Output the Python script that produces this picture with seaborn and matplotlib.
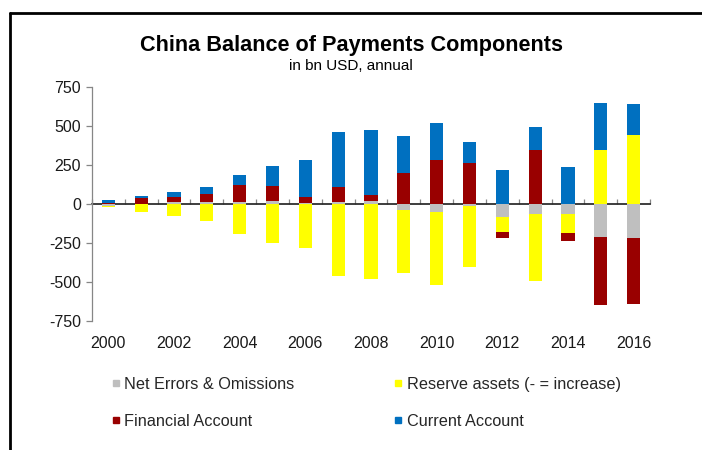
import numpy as np
import pandas as pd
import matplotlib
matplotlib.use("Agg")
import matplotlib.pyplot as plt
from matplotlib.lines import Line2D
import seaborn as sns

years = [str(y) for y in range(2000, 2017)]
net_errors = [-12, -5, 8, 8, 10, 20, 3, 13, 16, -41, -53, -14, -87, -63, -67, -214, -223]
reserves = [-10, -47, -76, -112, -193, -253, -285, -461, -484, -405, -471, -389, -97, -433, -118, 342, 440]
financial = [2, 35, 32, 53, 108, 91, 40, 91, 37, 194, 282, 260, -36, 343, -51, -436, -418]
current = [20, 17, 35, 43, 69, 129, 235, 353, 420, 243, 238, 136, 215, 148, 236, 306, 198]
tick_labels = ["2000", "2002", "2004", "2006", "2008", "2010", "2012", "2014", "2016"]
y_ticks = [-750, -500, -250, 0, 250, 500, 750]

series = [
    ("Net Errors & Omissions", net_errors, "#BFBFBF"),
    ("Reserve assets (- = increase)", reserves, "#FFFF00"),
    ("Financial Account", financial, "#990000"),
    ("Current Account", current, "#0070C0"),
]

sns.set_theme(style="white")
plt.rcParams["font.family"] = ["Liberation Sans", "DejaVu Sans"]

fig = plt.figure(figsize=(7.02, 4.5), dpi=100)
ax = fig.add_axes([92 / 702, 1 - 320.7 / 450, (650 - 92) / 702, (320.7 - 86.7) / 450])

pos_base = np.zeros(len(years))
neg_base = np.zeros(len(years))
handles = {}
for name, vals, col in series:
    v = np.array(vals, dtype=float)
    bottom = np.where(v >= 0, pos_base, neg_base)
    df = pd.DataFrame({"year": years, "value": v})
    sns.barplot(data=df, x="year", y="value", order=years, color=col,
                saturation=1, width=0.4, bottom=bottom, ax=ax, linewidth=0)
    pos_base = pos_base + np.where(v >= 0, v, 0)
    neg_base = neg_base + np.where(v < 0, v, 0)
    handles[name] = Line2D([], [], linestyle="none", marker="s", markersize=4.8,
                           markerfacecolor=col, markeredgecolor=col)

ax.set_xlim(-0.5, len(years) - 0.5)
ax.set_ylim(-750, 750)
ax.set_xlabel("")
ax.set_ylabel("")
ax.set_yticks(y_ticks)
ax.set_yticklabels([str(t) for t in y_ticks])
ax.set_xticks([years.index(t) for t in tick_labels])
ax.set_xticklabels(tick_labels)

for s in ["top", "right", "bottom"]:
    ax.spines[s].set_visible(False)
ax.spines["left"].set_color("#868686")
ax.spines["left"].set_linewidth(0.9)
ax.tick_params(axis="y", left=True, length=4, width=0.9, color="#868686",
               labelsize=11.5, labelcolor="#1a1a1a", pad=4)
ax.tick_params(axis="x", bottom=False, length=0, labelsize=11.5,
               labelcolor="#1a1a1a", pad=11)

# zero line with category-boundary ticks
sec = ax.secondary_xaxis(0.5)
sec.set_xticks(np.arange(-0.5, len(years), 1.0))
sec.set_xticklabels([])
sec.spines["bottom"].set_color("#868686")
sec.spines["bottom"].set_linewidth(0.9)
sec.tick_params(axis="x", direction="out", length=3.5, width=0.9, color="#868686")

fig.text(0.5, 1 - 45.5 / 450, "China Balance of Payments Components", ha="center",
         va="center", fontsize=15.6, fontweight="bold", color="#000000")
fig.text(0.5, 1 - 66.5 / 450, "in bn USD, annual", ha="center", va="center",
         fontsize=11, color="#000000")

order = ["Net Errors & Omissions", "Financial Account",
         "Reserve assets (- = increase)", "Current Account"]
fig.legend([handles[n] for n in order], order, ncol=2, loc="upper left",
           bbox_to_anchor=(112.8 / 702, 1 - 377 / 450), frameon=False,
           fontsize=11.7, handlelength=0.4, handletextpad=0.3,
           columnspacing=6.2, labelspacing=1.33, borderpad=0, borderaxespad=0)

# outer frame (partially cropped)
fig.add_artist(Line2D([9.5 / 702, 1.0], [1 - 13 / 450, 1 - 13 / 450],
                      transform=fig.transFigure, color="black", linewidth=2))
fig.add_artist(Line2D([9.5 / 702, 9.5 / 702], [0, 1 - 13 / 450],
                      transform=fig.transFigure, color="black", linewidth=2))

fig.savefig("out.png", dpi=100)
